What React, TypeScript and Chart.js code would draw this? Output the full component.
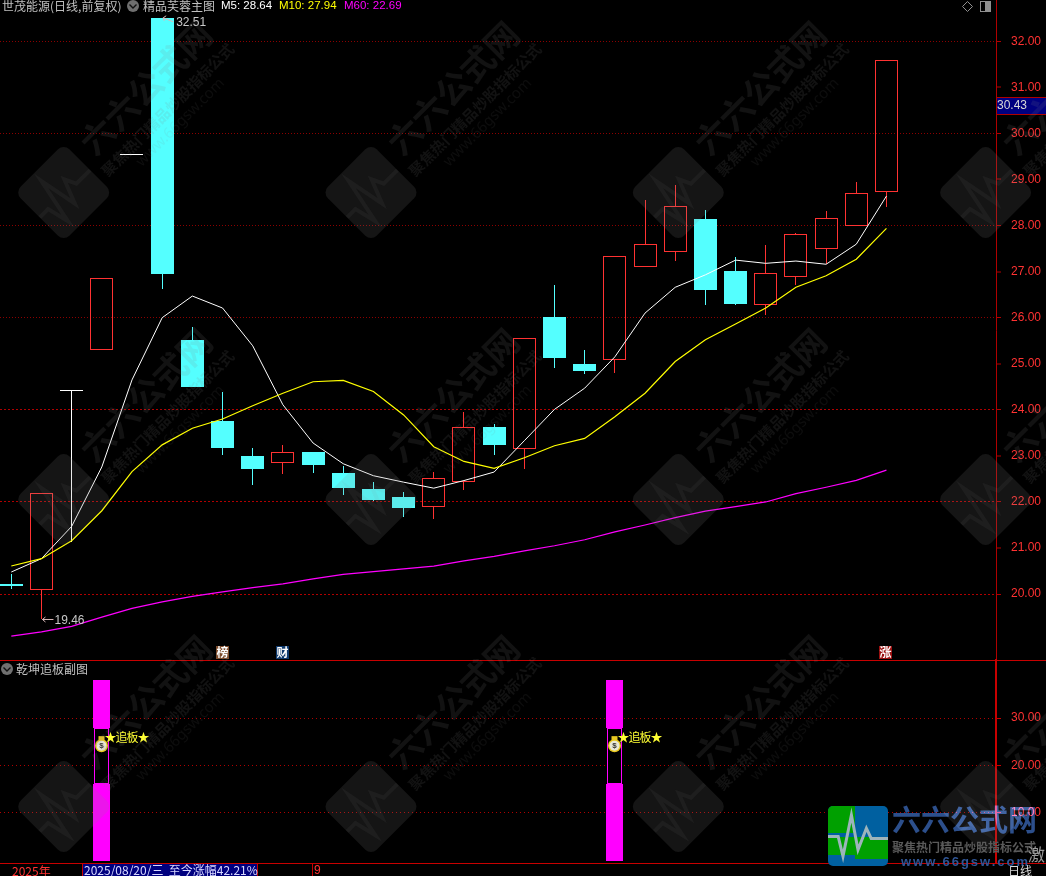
import React, { useEffect, useRef } from "react";
import { Chart, registerables } from "chart.js";

Chart.register(...registerables);

const opens = [20.22, 20.09, 24.43, 25.29, 29.55, 32.51, 25.52, 23.76, 23.0, 22.855, 23.09, 22.63, 22.29, 22.11, 21.9, 22.44, 23.63, 23.16, 26.02, 25.0, 25.09, 27.09, 27.435, 28.14, 27.015, 26.28, 26.89, 27.5, 28.0, 28.72];
const closes = [20.18, 22.19, 24.43, 26.86, 29.55, 26.95, 24.5, 23.17, 22.72, 23.08, 22.81, 22.31, 22.05, 21.87, 22.52, 23.62, 23.24, 25.555, 25.13, 24.845, 27.335, 27.595, 28.42, 26.6, 26.3, 26.965, 27.81, 28.16, 28.7, 31.59];
const highs = [20.44, 22.19, 24.43, 26.86, 29.55, 32.51, 25.8, 24.39, 23.17, 23.24, 23.09, 22.78, 22.44, 22.22, 22.65, 23.96, 23.69, 25.555, 26.71, 25.3, 27.335, 28.56, 28.88, 28.34, 27.32, 27.58, 27.84, 28.32, 28.95, 31.59];
const lows = [20.12, 19.46, 21.14, 25.29, 29.55, 26.62, 24.5, 23.02, 22.37, 22.61, 22.63, 22.16, 22.02, 21.68, 21.63, 22.26, 23.02, 22.72, 24.91, 24.78, 24.8, 27.09, 27.22, 26.28, 26.28, 26.06, 26.71, 27.17, 28.0, 28.41];
const m5 = [20.48, 20.77, 21.47, 22.76, 24.65, 26.0, 26.47, 26.21, 25.39, 24.11, 23.28, 22.83, 22.57, 22.43, 22.3, 22.465, 22.65, 23.33, 24.01, 24.47, 25.15, 26.1, 26.66, 26.93, 27.25, 27.18, 27.23, 27.16, 27.595, 28.64];
const m10 = [20.61, 20.77, 21.16, 21.81, 22.66, 23.24, 23.6, 23.8, 24.09, 24.36, 24.61, 24.64, 24.4, 23.89, 23.2, 22.88, 22.73, 22.96, 23.22, 23.38, 23.85, 24.36, 25.05, 25.52, 25.865, 26.21, 26.66, 26.91, 27.27, 27.94];
const m60 = [19.09, 19.18, 19.3, 19.5, 19.69, 19.83, 19.95, 20.05, 20.14, 20.22, 20.33, 20.43, 20.49, 20.55, 20.61, 20.72, 20.82, 20.94, 21.05, 21.18, 21.35, 21.5, 21.66, 21.8, 21.9, 22.0, 22.18, 22.32, 22.47, 22.69];

const mainTicks = [32, 31, 30, 29, 28, 27, 26, 25, 24, 23, 22, 21, 20];
const subTicks = [30, 20, 10];
const signalIndex = [3, 20];
const signalTop = [27.94, 38.15];
const signalMid = [16.02, 27.94];
const signalBottom = [-0.15, 16.02];
const badgeIndex = [7, 9, 29];
const badgeText = ["榜", "财", "涨"];
const badgeColor = ["#7d4c2c", "#0f3a6e", "#9a1010"];
const title = "世茂能源(日线,前复权)";
const formula = "精品芙蓉主图";
const subTitle = "乾坤追板副图";
const signalText = "★追板★";
const lastPrice = 30.43;
const dateText = "2025/08/20/三  至今涨幅42.21%";

const RED = "#ff3232";
const CYAN = "#54ffff";
const MAGENTA = "#ff00ff";
const SANS = '"Liberation Sans", Arial, sans-serif';
const CJK = '"Noto Sans CJK SC", sans-serif';

const candleColor = (i: number) =>
  closes[i] > opens[i] ? RED : closes[i] < opens[i] ? CYAN : "#ffffff";

const range = (i: number, a: number, b: number) =>
  a === b ? null : { x: i, y: [a, b] };

const PULSE = [
  [0, 0.51],
  [0.17, 0.51],
  [0.25, 0.84],
  [0.39, 0.15],
  [0.5, 0.73],
  [0.64, 0.37],
  [0.72, 0.54],
  [1, 0.54],
];

function pulsePath(ctx: any, x: number, y: number, s: number) {
  ctx.beginPath();
  PULSE.forEach(([a, b], i) => {
    if (i === 0) ctx.moveTo(x + a * s, y + b * s);
    else ctx.lineTo(x + a * s, y + b * s);
  });
}

function drawWatermark(ctx: any, cx: number, cy: number) {
  ctx.save();
  ctx.translate(cx, cy);
  ctx.rotate(-Math.PI / 4);
  ctx.fillStyle = "rgba(128,128,128,0.16)";
  ctx.beginPath();
  ctx.roundRect(-34.5, -34.5, 69, 69, 8);
  ctx.fill();
  ctx.strokeStyle = "rgba(140,140,140,0.08)";
  ctx.lineWidth = 4;
  pulsePath(ctx, -34.5, -34.5, 69);
  ctx.stroke();
  ctx.textAlign = "center";
  ctx.textBaseline = "middle";
  ctx.fillStyle = "rgba(128,128,128,0.14)";
  ctx.font = `bold 34px ${CJK}`;
  ctx.fillText("六六公式网", 132, -16);
  ctx.font = `bold 15px ${CJK}`;
  ctx.fillText("聚焦热门精品炒股指标公式", 132, 15);
  ctx.font = `15px "Noto Sans", sans-serif`;
  ctx.fillStyle = "rgba(128,128,128,0.1)";
  ctx.fillText("www.66gsw.com", 132, 33);
  ctx.restore();
}

const crispBars = {
  id: "crispBars",
  beforeDatasetsDraw(chart: any) {
    chart.getSortedVisibleDatasetMetas().forEach((meta: any) => {
      if (meta.type !== "bar") return;
      meta.data.forEach((el: any) => {
        if (el.skip) return;
        el.x = Math.floor(el.x) + 0.5;
        el.y = Math.round(el.y);
        el.base = Math.round(el.base);
        if (el.base === el.y) el.base = el.y + 1;
      });
    });
  },
};

const overlay = {
  id: "overlay",
  afterDraw(chart: any) {
    const ctx = chart.ctx;
    const xs = chart.scales.x;
    const ys = chart.scales.y;
    const y2 = chart.scales.y2;
    const text = (
      s: string,
      x: number,
      y: number,
      color: string,
      font: string,
      spacing = "0px",
      align = "left"
    ) => {
      ctx.font = font;
      ctx.fillStyle = color;
      (ctx as any).letterSpacing = spacing;
      ctx.textAlign = align;
      ctx.textBaseline = "middle";
      ctx.fillText(s, x, y);
      (ctx as any).letterSpacing = "0px";
    };
    const hline = (x1: number, x2: number, y: number, color: string, w = 1) => {
      ctx.fillStyle = color;
      ctx.fillRect(x1, y, x2 - x1, w);
    };
    const vline = (x: number, y1: number, y2v: number, color: string, w = 1) => {
      ctx.fillStyle = color;
      ctx.fillRect(x, y1, w, y2v - y1);
    };
    ctx.save();

    // extreme price notes
    const hi = xs.getPixelForValue(5);
    const hiY = ys.getPixelForValue(highs[5]);
    const lo = xs.getPixelForValue(1);
    const loY = ys.getPixelForValue(lows[1]);
    ctx.strokeStyle = "#d8b8b8";
    ctx.lineWidth = 1;
    ctx.beginPath();
    ctx.moveTo(hi + 11, hiY + 4);
    ctx.lineTo(hi + 1, hiY);
    ctx.moveTo(hi + 1, hiY);
    ctx.lineTo(hi + 4, hiY - 2);
    ctx.moveTo(hi + 1, hiY);
    ctx.lineTo(hi + 2, hiY + 3);
    ctx.moveTo(lo + 1, loY + 0.5);
    ctx.lineTo(lo + 12, loY + 0.5);
    ctx.moveTo(lo + 1, loY + 0.5);
    ctx.lineTo(lo + 4, loY - 2);
    ctx.moveTo(lo + 1, loY + 0.5);
    ctx.lineTo(lo + 4, loY + 3);
    ctx.stroke();
    text(highs[5].toFixed(2), hi + 14, hiY + 5, "#c8c8c8", `12px ${SANS}`);
    text(lows[1].toFixed(2), lo + 13, loY + 1.5, "#c8c8c8", `12px ${SANS}`);

    // signal labels with money bag
    signalIndex.forEach((i) => {
      const cx = Math.floor(xs.getPixelForValue(i)) + 0.5;
      const cy = y2.getPixelForValue(24.5);
      ctx.fillStyle = "#e8c820";
      ctx.beginPath();
      ctx.arc(cx, cy + 1.5, 6.5, 0, Math.PI * 2);
      ctx.fill();
      ctx.fillRect(cx - 3, cy - 8, 6, 4);
      ctx.fillStyle = "#e8e8d8";
      ctx.beginPath();
      ctx.arc(cx, cy + 1.5, 5, 0, Math.PI * 2);
      ctx.fill();
      text("$", cx, cy + 2, "#333333", `bold 8px ${SANS}`, "0px", "center");
      text(signalText, cx + 3, y2.getPixelForValue(30) + 19, "#ffff33", `12px ${CJK}`, "-1px");
    });

    // badges
    badgeIndex.forEach((i, k) => {
      const cx = Math.round(xs.getPixelForValue(i));
      ctx.fillStyle = badgeColor[k];
      ctx.fillRect(cx - 7, 646, 13, 13);
      text(badgeText[k], cx - 0.5, 652.5, "#ffffff", `bold 12px ${CJK}`, "0px", "center");
    });

    // pane frames
    hline(0, 1046, 660, "#c80000", 1);
    hline(0, 1046, 863, "#c80000", 1);

    // headers
    text(title, 2, 6, "#c0c0c0", `12px ${CJK}`);
    ctx.fillStyle = "#707070";
    ctx.beginPath();
    ctx.arc(133, 6, 6, 0, Math.PI * 2);
    ctx.fill();
    ctx.strokeStyle = "#111111";
    ctx.lineWidth = 1.4;
    ctx.beginPath();
    ctx.moveTo(129.5, 4.5);
    ctx.lineTo(133, 8);
    ctx.lineTo(136.5, 4.5);
    ctx.stroke();
    text(formula, 143, 6, "#c0c0c0", `12px ${CJK}`);
    text(`M5: ${m5[29].toFixed(2)}`, 221, 6, "#ffffff", `11.5px ${SANS}`);
    text(`M10: ${m10[29].toFixed(2)}`, 279, 6, "#ffff00", `11.5px ${SANS}`);
    text(`M60: ${m60[29].toFixed(2)}`, 344, 6, MAGENTA, `11.5px ${SANS}`);

    ctx.strokeStyle = "#909090";
    ctx.lineWidth = 1;
    ctx.beginPath();
    ctx.moveTo(967.5, 1.5);
    ctx.lineTo(972.5, 6.5);
    ctx.lineTo(967.5, 11.5);
    ctx.lineTo(962.5, 6.5);
    ctx.closePath();
    ctx.stroke();
    ctx.strokeStyle = "#909090";
    ctx.strokeRect(980.5, 1.5, 10, 10);
    ctx.fillStyle = "#909090";
    ctx.fillRect(985, 2, 5, 9);

    ctx.fillStyle = "#707070";
    ctx.beginPath();
    ctx.arc(7, 669, 6, 0, Math.PI * 2);
    ctx.fill();
    ctx.strokeStyle = "#111111";
    ctx.lineWidth = 1.4;
    ctx.beginPath();
    ctx.moveTo(3.5, 667.5);
    ctx.lineTo(7, 671);
    ctx.lineTo(10.5, 667.5);
    ctx.stroke();
    text(subTitle, 16, 669, "#c0c0c0", `12px ${CJK}`);

    // last price tag
    const py = Math.round(ys.getPixelForValue(lastPrice));
    ctx.fillStyle = "#00007f";
    ctx.fillRect(997, py - 16, 49, 16);
    hline(996, 1046, py - 17, "#b00000");
    hline(996, 1046, py, "#b00000");
    text(lastPrice.toFixed(2), 997, py - 8, "#d8d8d8", `12px ${SANS}`);

    // bottom strip
    ctx.fillStyle = "#000000";
    ctx.fillRect(0, 864, 1046, 12);
    ctx.fillStyle = "#00007f";
    ctx.fillRect(82, 864, 175, 12);
    vline(82, 864, 876, "#c80000");
    vline(257, 864, 876, "#c80000");
    vline(312, 864, 876, "#c80000");
    ctx.save();
    ctx.beginPath();
    ctx.rect(0, 864, 1046, 12);
    ctx.clip();
    text("2025年", 12, 871.5, "#ff3232", `12px ${CJK}`);
    text(dateText, 84, 870.5, "#d8d8ff", `12px ${CJK}`);
    text("9", 314, 871, "#ff3232", `12px ${SANS}`);
    ctx.restore();

    // tiled watermark over everything
    for (let r = 0; r < 3; r++) {
      for (let c = 0; c < 4; c++) {
        drawWatermark(ctx, 63.7 + c * 307.3, 192.5 + r * 307);
      }
    }

    // site logo, bottom right
    ctx.save();
    ctx.beginPath();
    ctx.roundRect(828, 806, 60, 60, 5);
    ctx.clip();
    ctx.fillStyle = "#0060a0";
    ctx.fillRect(828, 806, 60, 60);
    ctx.fillStyle = "#00a000";
    ctx.fillRect(828, 806, 27, 27);
    ctx.fillRect(855, 837, 33, 22);
    ctx.fillRect(828, 837, 27, 18);
    ctx.strokeStyle = "#9db4bb";
    ctx.lineWidth = 3;
    pulsePath(ctx, 828, 806, 60);
    ctx.stroke();
    ctx.restore();
    ctx.save();
    ctx.globalCompositeOperation = "lighter";
    text("六六公式网", 892, 820, "#2c4f8c", `bold 29px ${CJK}`);
    ctx.restore();
    text("聚焦热门精品炒股指标公式", 892, 847, "#5a5a5a", `bold 12px ${CJK}`);
    text("www.66gsw.com", 901, 862, "#2f5596", `bold 13px ${SANS}`, "2px");
    text("激", 1028, 855, "#999999", `17px ${CJK}`);
    text("日线", 1008, 871, "#d8d8d8", `12px ${CJK}`);

    ctx.restore();
  },
};

export default function App() {
  const ref = useRef<HTMLCanvasElement>(null);

  useEffect(() => {
    document.body.style.margin = "0";
    document.body.style.background = "#000";
    const idx = opens.map((_, i) => i);
    const colors = idx.map(candleColor);
    const bodyBase = {
      type: "bar" as const,
      yAxisID: "y",
      barThickness: 23,
      grouped: false,
      inflateAmount: 0,
      borderSkipped: false,
      order: 3,
    };
    const signalBar = {
      type: "bar" as const,
      yAxisID: "y2",
      grouped: false,
      inflateAmount: 0,
      borderSkipped: false,
      order: 3,
    };
    const line = (label: string, data: number[], color: string, borderWidth: number) => ({
      type: "line" as const,
      label,
      yAxisID: "y",
      data: data.map((y, x) => ({ x, y })),
      borderColor: color,
      borderWidth,
      pointRadius: 0,
      tension: 0,
      order: 1,
    });
    const fitAxis = (s: any) => {
      s.width = 50;
      s.paddingTop = 0;
      s.paddingBottom = 0;
      s.paddingLeft = 0;
      s.paddingRight = 0;
    };
    const chart = new Chart(ref.current as HTMLCanvasElement, {
      type: "bar",
      data: {
        datasets: [
          {
            ...bodyBase,
            label: "upper",
            barThickness: 1,
            order: 4,
            data: idx.map((i) => range(i, Math.max(opens[i], closes[i]), highs[i])).filter(Boolean),
            backgroundColor: idx
              .filter((i) => range(i, Math.max(opens[i], closes[i]), highs[i]))
              .map((i) => colors[i]),
            borderWidth: 0,
          },
          {
            ...bodyBase,
            label: "lower",
            barThickness: 1,
            order: 4,
            data: idx.map((i) => range(i, lows[i], Math.min(opens[i], closes[i]))).filter(Boolean),
            backgroundColor: idx
              .filter((i) => range(i, lows[i], Math.min(opens[i], closes[i])))
              .map((i) => colors[i]),
            borderWidth: 0,
          },
          {
            ...bodyBase,
            label: "body",
            data: idx.map((i) => ({ x: i, y: [opens[i], closes[i]] })),
            backgroundColor: idx.map((i) => (closes[i] > opens[i] ? "rgba(0,0,0,0)" : colors[i])),
            borderColor: colors,
            borderWidth: idx.map((i) => (closes[i] > opens[i] ? 1 : 0)),
          },
          {
            ...signalBar,
            label: "signalTop",
            barThickness: 17,
            data: signalIndex.map((x) => ({ x, y: signalTop })),
            backgroundColor: MAGENTA,
            borderWidth: 0,
          },
          {
            ...signalBar,
            label: "signalBottom",
            barThickness: 17,
            data: signalIndex.map((x) => ({ x, y: signalBottom })),
            backgroundColor: MAGENTA,
            borderWidth: 0,
          },
          {
            ...signalBar,
            label: "signalMid",
            barThickness: 15,
            data: signalIndex.map((x) => ({ x, y: signalMid })),
            backgroundColor: "#000000",
            borderColor: MAGENTA,
            borderWidth: 1,
          },
          line("M60", m60, MAGENTA, 1.25),
          line("M10", m10, "#ffff00", 1.2),
          line("M5", m5, "#ffffff", 1),
        ] as any,
      },
      options: {
        animation: false,
        responsive: false,
        layout: { padding: { left: 0, right: 0, top: 0, bottom: 12 } },
        plugins: { legend: { display: false }, tooltip: { enabled: false } },
        scales: {
          x: { type: "linear", display: false, min: -0.374, max: 32.63, offset: false },
          y: {
            type: "linear",
            position: "right",
            stack: "panes",
            stackWeight: 660,
            min: 18.57,
            max: 32.896,
            afterFit: fitAxis,
            afterBuildTicks: (s: any) => {
              s.ticks = mainTicks.map((value) => ({ value }));
            },
            border: {
              color: "#b00000",
              width: 1,
              dash: (c: any) => (c.tick && c.tick.value <= 24 ? [2, 2] : [1, 2]),
            },
            grid: {
              drawOnChartArea: true,
              color: (c: any) => (c.tick && c.tick.value <= 24 ? "#b00000" : "#8c0000"),
              lineWidth: (c: any) => (c.tick && c.tick.value % 2 === 0 ? 1 : 0),
              tickColor: "#b00000",
              tickWidth: 1,
              tickLength: 5,
              tickBorderDash: [],
            },
            ticks: {
              color: RED,
              padding: 10,
              font: { size: 12, family: SANS },
              autoSkip: false,
              maxRotation: 0,
              callback: (v: any) => Number(v).toFixed(2),
            },
          } as any,
          y2: {
            type: "linear",
            position: "right",
            stack: "panes",
            stackWeight: 204,
            min: -0.85,
            max: 42.3,
            afterFit: fitAxis,
            afterBuildTicks: (s: any) => {
              s.ticks = subTicks.map((value) => ({ value }));
            },
            border: { color: "#c80000", width: 2, dash: [1, 3] },
            grid: {
              color: "#b00000",
              lineWidth: 1,
              tickColor: "#c80000",
              tickLength: 5,
              tickBorderDash: [],
            },
            ticks: {
              color: RED,
              padding: 10,
              font: { size: 12, family: SANS },
              autoSkip: false,
              maxRotation: 0,
              callback: (v: any) => Number(v).toFixed(2),
            },
          } as any,
        },
      },
      plugins: [crispBars, overlay],
    } as any);
    return () => chart.destroy();
  }, []);

  return (
    <div style={{ position: "fixed", left: 0, top: 0, width: 1046, height: 876, background: "#000", overflow: "hidden" }}>
      <canvas ref={ref} width={1046} height={876} style={{ display: "block" }} />
    </div>
  );
}
